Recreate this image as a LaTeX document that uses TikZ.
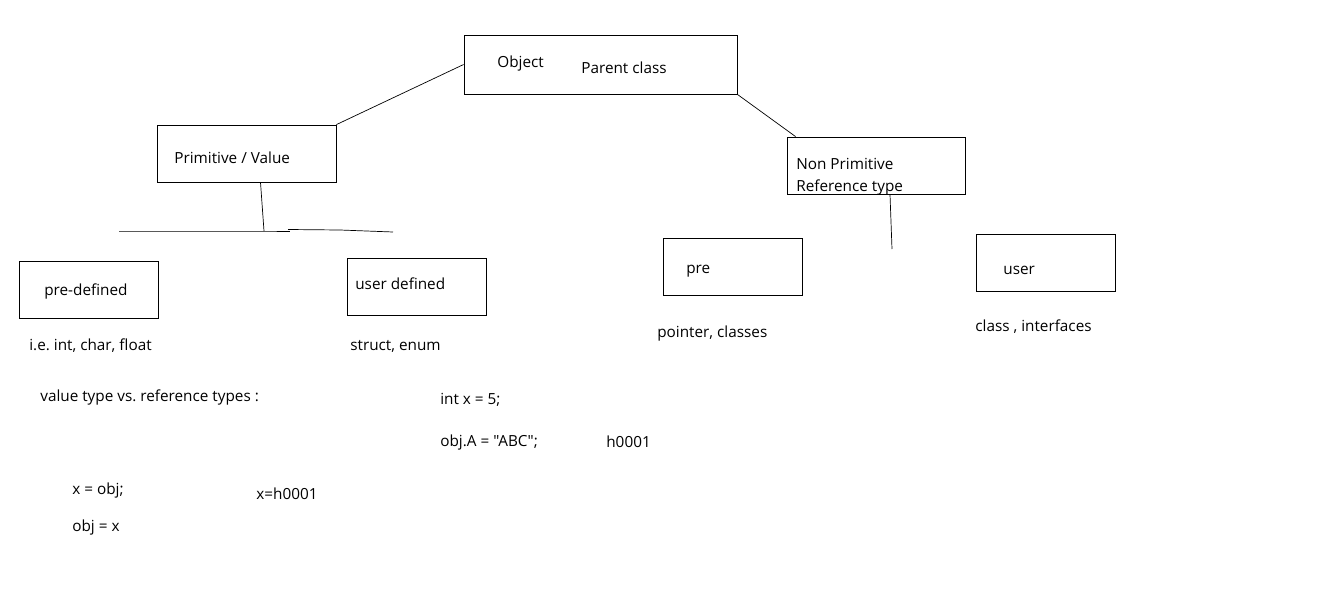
\documentclass[tikz,border=0pt]{standalone}
\usepackage{fontspec}
\setmainfont{Open Sans}[Ligatures=TeXOff]
\usetikzlibrary{positioning,calc}
\frenchspacing

\tikzset{
box/.style={draw,line width=0.8pt,minimum width=139pt,minimum height=57pt,inner sep=0pt},
txt/.style={anchor=west,inner sep=0pt,yshift=-2.5pt,font=\fontsize{15.3}{22}\selectfont}
}

\begin{document}
\begin{tikzpicture}[x=1pt,y=-1pt,line width=0.7pt]
\useasboundingbox (0,0) rectangle (1334,594);

%Object
\node[box,minimum width=273pt,minimum height=59pt] (obj) at (600.5,64.5) {};
\node[txt] (objname) at (497,61) {Object};
\node[txt] (objparent) at (581,65) {Parent class};

%Primitive
\node[box,minimum width=179pt] (prim) at (246.5,153.5) {};
\node[txt] (primname) at (174,155) {Primitive / Value};
\draw (obj.west) -- (prim.north east);

%Non primitive
\node[box,minimum width=178pt] (nonprim) at (876,165.5) {};
\node[txt,align=left] (nonprimname) at (796,174) {Non Primitive\\Reference type};
\draw (obj.south east) -- ($(nonprim.north west)+(9,0)$);

% bar below primitive
\coordinate (barL) at (119,231);
\coordinate (barM) at (264,231);
\coordinate (barR) at (393,232);
\draw ([xshift=14pt]prim.south) -- (barM);
\draw (barL) -- (barM) -- (290,231);
\draw (288,229.5) -- (340,230) -- (barR);

% stub below non primitive
\coordinate (npEnd) at (892,249);
\draw ([xshift=14pt]nonprim.south) -- (npEnd);

% children
\node[box] (predef) at (88.5,290) {};
\node[txt] (predefname) at (44,289) {pre-defined};
\node[box] (userdef) at (416.5,286.5) {};
\node[txt] (userdefname) at (355,281) {user defined};
\node[box] (pre) at (732.5,266.5) {};
\node[txt] (prename) at (686,269) {pre};
\node[box] (user) at (1045.5,262.5) {};
\node[txt] (username) at (1003,268) {user};

% notes
\node[txt] (ie) at (29,343) {i.e. int, char, float};
\node[txt] (struct) at (350,344) {struct, enum};
\node[txt] (pointer) at (657,331) {pointer, classes};
\node[txt] (class) at (975,324) {class , interfaces};
\node[txt] (vs) at (40,395) {value type vs. reference types :};
\node[txt] (intx) at (440,397) {int x = 5;};
\node[txt] (objA) at (440,440) {obj.A = "ABC";};
\node[txt] (haddr) at (606,439) {h0001};
\node[txt] (xobj) at (72,488) {x = obj;};
\node[txt] (xh) at (256,491) {x=h0001};
\node[txt] (objx) at (72,525) {obj = x};
\end{tikzpicture}
\end{document}
